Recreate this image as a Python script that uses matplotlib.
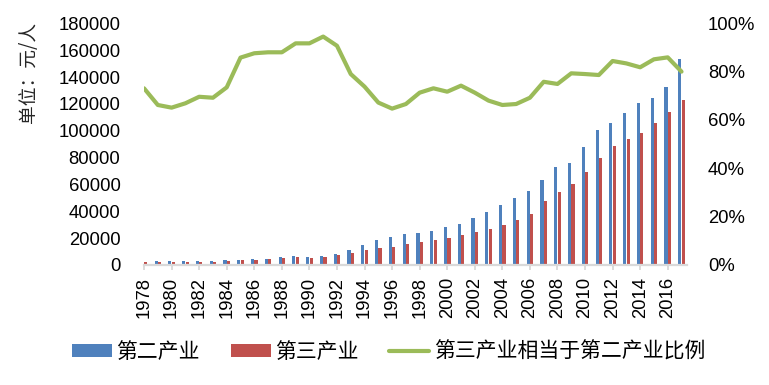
import numpy as np
import matplotlib
matplotlib.use('Agg')
import matplotlib.pyplot as plt
from matplotlib.ticker import FuncFormatter

# 年份
years = list(range(1978, 2018))

# 第二产业 (元/人)
secondary = [2700, 3000, 3000, 3000, 3000, 3100, 3700, 4000, 4400, 4700,
             6000, 6600, 6000, 6700, 8200, 11200, 14900, 18600, 20900, 23100,
             23800, 25300, 28300, 30500, 35000, 39500, 44700, 49900, 55100, 63300,
             73000, 76000, 87900, 100500, 105700, 113200, 120600, 124400, 132600, 153400]

# 第三产业 (元/人)
tertiary = [2000, 2000, 1950, 2000, 2100, 2150, 2700, 3400, 3850, 4100,
            5300, 6000, 5500, 6300, 7400, 8700, 11100, 12500, 13500, 15500,
            17000, 18500, 20200, 22700, 24800, 26800, 29600, 33200, 38100, 47900,
            54700, 60300, 69300, 79600, 88600, 93800, 98300, 105700, 113900, 122800]

# 第三产业相当于第二产业比例 (%)
ratio = [73.1, 66.2, 65.1, 66.9, 69.6, 69.2, 73.5, 85.8, 87.6, 88.0,
         88.0, 91.7, 91.7, 94.5, 90.7, 79.0, 73.8, 67.2, 64.7, 66.6,
         71.3, 73.1, 71.7, 74.2, 71.3, 68.0, 66.2, 66.6, 69.2, 75.8,
         74.9, 79.3, 79.0, 78.6, 84.4, 83.4, 81.8, 85.1, 85.9, 80.0]

labels = ['第二产业', '第三产业', '第三产业相当于第二产业比例']

cjk = ['Noto Sans CJK SC', 'DejaVu Sans']
plt.rcParams['font.family'] = ['Liberation Sans', 'DejaVu Sans']

blue = '#4F81BD'
red = '#C0504D'
green = '#9BBB59'
grey = '#D9D9D9'

fig = plt.figure(figsize=(7.69, 3.85), dpi=100)
ax = fig.add_axes([0.1873, 0.3117, 0.7061, 0.6278])

x = np.arange(len(years))
w = 0.23
b1 = ax.bar(x - 0.125, secondary, width=w, color=blue, label=labels[0])
b2 = ax.bar(x + 0.125, tertiary, width=w, color=red, label=labels[1])

ax.set_xlim(0, 39.4)
ax.set_ylim(0, 180000)
ax.set_yticks(np.arange(0, 180001, 20000))
ax.set_xticks(x[::2])
ax.set_xticklabels([str(y) for y in years[::2]], rotation=90)

for s in ['top', 'right', 'left']:
    ax.spines[s].set_visible(False)
ax.spines['bottom'].set_color(grey)
ax.spines['bottom'].set_linewidth(1.6)
ax.tick_params(axis='x', length=3.6, width=1.3, color=grey, pad=5,
               labelsize=13.3, labelcolor='black')
ax.tick_params(axis='y', length=0, pad=17, labelsize=13.3, labelcolor='black')

# 右轴：比例
ax2 = ax.twinx()
ln, = ax2.plot(x, np.array(ratio) / 100, color=green, lw=3,
               solid_joinstyle='round', solid_capstyle='round', label=labels[2])
ax2.set_ylim(0, 1)
ax2.set_yticks(np.arange(0, 1.01, 0.2))
ax2.yaxis.set_major_formatter(FuncFormatter(lambda v, p: f'{v * 100:.0f}%'))
for s in ['top', 'right', 'left', 'bottom']:
    ax2.spines[s].set_visible(False)
ax2.tick_params(axis='y', length=0, pad=15, labelsize=13.3, labelcolor='black')
ax2.set_xlim(0, 39.4)

# 纵轴标题
fig.text(28 / 769, 0.813, '单位：元/人', rotation=90, ha='center', va='center',
         fontsize=13.5, family=cjk, color='#262626')

# 图例
fig.legend([b1, b2, ln], labels, loc='center', bbox_to_anchor=(0.505, 0.086),
           ncol=3, frameon=False, borderpad=0, handlelength=1.92,
           handleheight=0.53, handletextpad=0.2, columnspacing=1.5,
           prop={'family': cjk, 'size': 15})

plt.savefig('out.png', dpi=100)
plt.close()
